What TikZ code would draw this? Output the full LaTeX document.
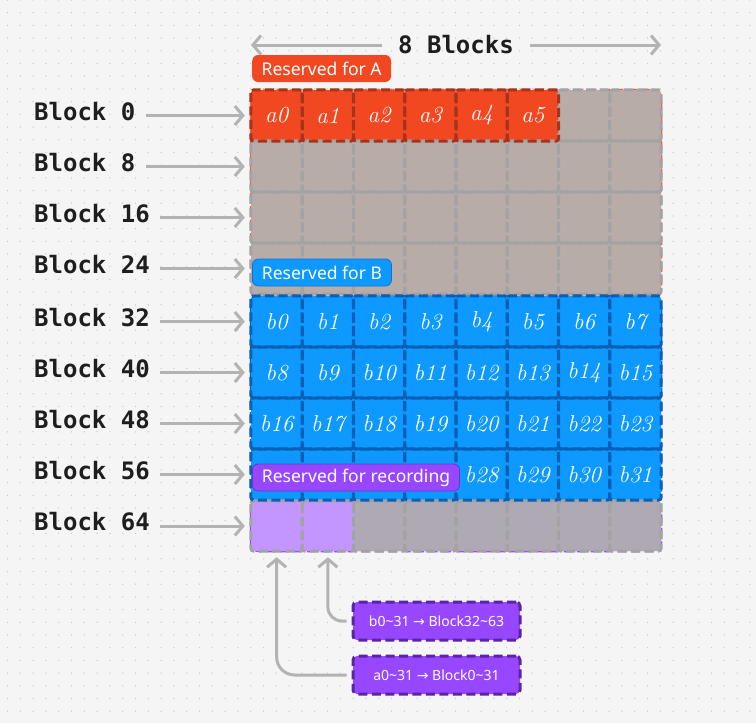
\documentclass[tikz,border=0pt]{standalone}
\usepackage{fontspec}
\setsansfont{Noto Sans}
\setmonofont{DejaVu Sans Mono}
\newfontfamily\arrowfont{DejaVu Sans}
\usetikzlibrary{arrows.meta,positioning}

\definecolor{bgc}{HTML}{F5F5F5}
\definecolor{dotc}{HTML}{CBCBCB}
\definecolor{linec}{HTML}{B3B3B3}
\definecolor{inkc}{HTML}{1E1E1E}
\definecolor{redA}{HTML}{F24822}
\definecolor{redAdark}{HTML}{A8321C}
\definecolor{grayA}{HTML}{B8ACA8}
\definecolor{grayline}{HTML}{A3A3A3}
\definecolor{blueB}{HTML}{0D99FF}
\definecolor{blueBdark}{HTML}{0B5FB5}
\definecolor{purR}{HTML}{9747FF}
\definecolor{purRdark}{HTML}{5B23A6}
\definecolor{purRlight}{HTML}{C396FF}
\definecolor{grayR}{HTML}{AFA9B4}

\begin{document}
\begin{tikzpicture}[
    x=1pt, y=-1pt,
    cell/.style={rounded corners=3pt, minimum width=51.25pt, minimum height=51pt,
      inner sep=0pt, text=white, font=\fontsize{23}{25}\selectfont\itshape},
    acell/.style={cell, fill=redA},
    graycell/.style={cell, fill=grayA},
    bcell/.style={cell, fill=blueB},
    rcell/.style={cell, minimum height=50pt, fill=grayR},
    frame/.style={dash pattern=on 9pt off 4.5pt, line width=3pt, rounded corners=3pt},
    group/.style={dash pattern=on 9pt off 4.5pt, line width=2.5pt, rounded corners=8pt},
    blocklbl/.style={inner sep=0pt, text=inkc, font=\ttfamily\bfseries\fontsize{24}{27}\selectfont},
    tag/.style={anchor=west, rounded corners=6pt, inner xsep=9.5pt, minimum height=27pt,
      text=white, font=\sffamily\fontsize{17.5}{19}\selectfont},
    mapbox/.style={draw=purRdark, fill=purR, dash pattern=on 9pt off 4.5pt, line width=3pt,
      rounded corners=4pt, minimum width=167pt, minimum height=38pt, text=white,
      font=\sffamily\fontsize{14}{16}\selectfont},
    arr/.style={draw=linec, line width=3pt, -{Straight Barb[length=8pt, width=19pt]}}
  ]
  % background with dots
  \fill[bgc] (0,0) rectangle (756,723);
  \useasboundingbox (0,0) rectangle (756,723);
  \foreach \i in {0,...,58}
    \foreach \j in {0,...,57}
      \fill[dotc] ({7.5+12.8*\i}, {12.7*\j}) circle (0.75pt);

  % groups
  \draw[group, fill=grayA, draw=redA!70!grayA] (251,90) rectangle (661,294);
  \draw[group, fill=blueB, draw=blueBdark] (251,296) rectangle (661,500);
  \draw[group, fill=grayR, draw=purR] (251,501) rectangle (661,551);

  % blocks 0..31
  \foreach \r in {0,...,3}
    \foreach \c in {0,...,7} {
      \pgfmathtruncatemacro\n{8*\r+\c}
      \ifnum\n<6
        \node[acell] (blk-\n) at ({251+51.25*(\c+.5)}, {90+51*(\r+.5)}) {a\n};
      \else
        \node[graycell] (blk-\n) at ({251+51.25*(\c+.5)}, {90+51*(\r+.5)}) {};
      \fi
    }
  % blocks 32..63
  \foreach \r in {0,...,3}
    \foreach \c in {0,...,7} {
      \pgfmathtruncatemacro\k{8*\r+\c}
      \pgfmathtruncatemacro\n{32+\k}
      \ifnum\k>23 \ifnum\k<28
        \node[bcell] (blk-\n) at ({251+51.25*(\c+.5)}, {296+51*(\r+.5)}) {};
      \else
        \node[bcell] (blk-\n) at ({251+51.25*(\c+.5)}, {296+51*(\r+.5)}) {b\k};
      \fi \else
        \node[bcell] (blk-\n) at ({251+51.25*(\c+.5)}, {296+51*(\r+.5)}) {b\k};
      \fi
    }
  % blocks 64..71
  \foreach \c in {0,...,7} {
    \pgfmathtruncatemacro\n{64+\c}
    \ifnum\c<2
      \node[rcell, fill=purRlight] (blk-\n) at ({251+51.25*(\c+.5)}, 526) {};
    \else
      \node[rcell] (blk-\n) at ({251+51.25*(\c+.5)}, 526) {};
    \fi
  }

  % dashed cell frames
  \foreach \n in {6,...,31,64,65,...,71}
    \draw[frame, draw=grayline] (blk-\n.north west) rectangle (blk-\n.south east);
  \foreach \n in {32,...,63}
    \draw[frame, draw=blueBdark] (blk-\n.north west) rectangle (blk-\n.south east);
  \foreach \n in {0,...,5}
    \draw[frame, draw=redAdark] (blk-\n.north west) rectangle (blk-\n.south east);

  % tags
  \node[tag, fill=redA] (tagA) at (252,68.5) {Reserved for A};
  \node[tag, fill=blueB, draw=blueBdark!60!blueB, line width=0.8pt] (tagB) at (252,272.5) {Reserved for B};
  \node[tag, fill=purR, draw=purRdark!60!purR, line width=0.8pt] (tagR) at (252,477.5) {Reserved for recording};

  % row labels
  \foreach \n in {0,8,...,64} {
    \node[blocklbl, anchor=west, yshift=4pt] (lbl-\n) at (blk-\n -| 34,0) {Block \n};
    \draw[arr, shorten <=10pt, shorten >=6pt] (lbl-\n.east |- blk-\n) -- (blk-\n);
  }

  % width
  \node[blocklbl] (width) at (456,45) {8 Blocks};
  \coordinate (wl) at (251,45);
  \coordinate (wr) at (661,45);
  \draw[arr, shorten <=16pt] (width) -- (wl);
  \draw[arr, shorten <=16pt] (width) -- (wr);

  % mapping
  \node[mapbox] (mapb) at (436.5,621) {b0\textasciitilde31 {\arrowfont →} Block32\textasciitilde63};
  \node[mapbox, below=13pt of mapb] (mapa) {a0\textasciitilde31 {\arrowfont →} Block0\textasciitilde31};
  \draw[arr, rounded corners=14pt, shorten <=5pt] (mapb.west) -| ([yshift=-6pt]blk-65.south);
  \draw[arr, rounded corners=18pt, shorten <=5pt] (mapa.west) -| ([yshift=-6pt]blk-64.south);
\end{tikzpicture}
\end{document}
